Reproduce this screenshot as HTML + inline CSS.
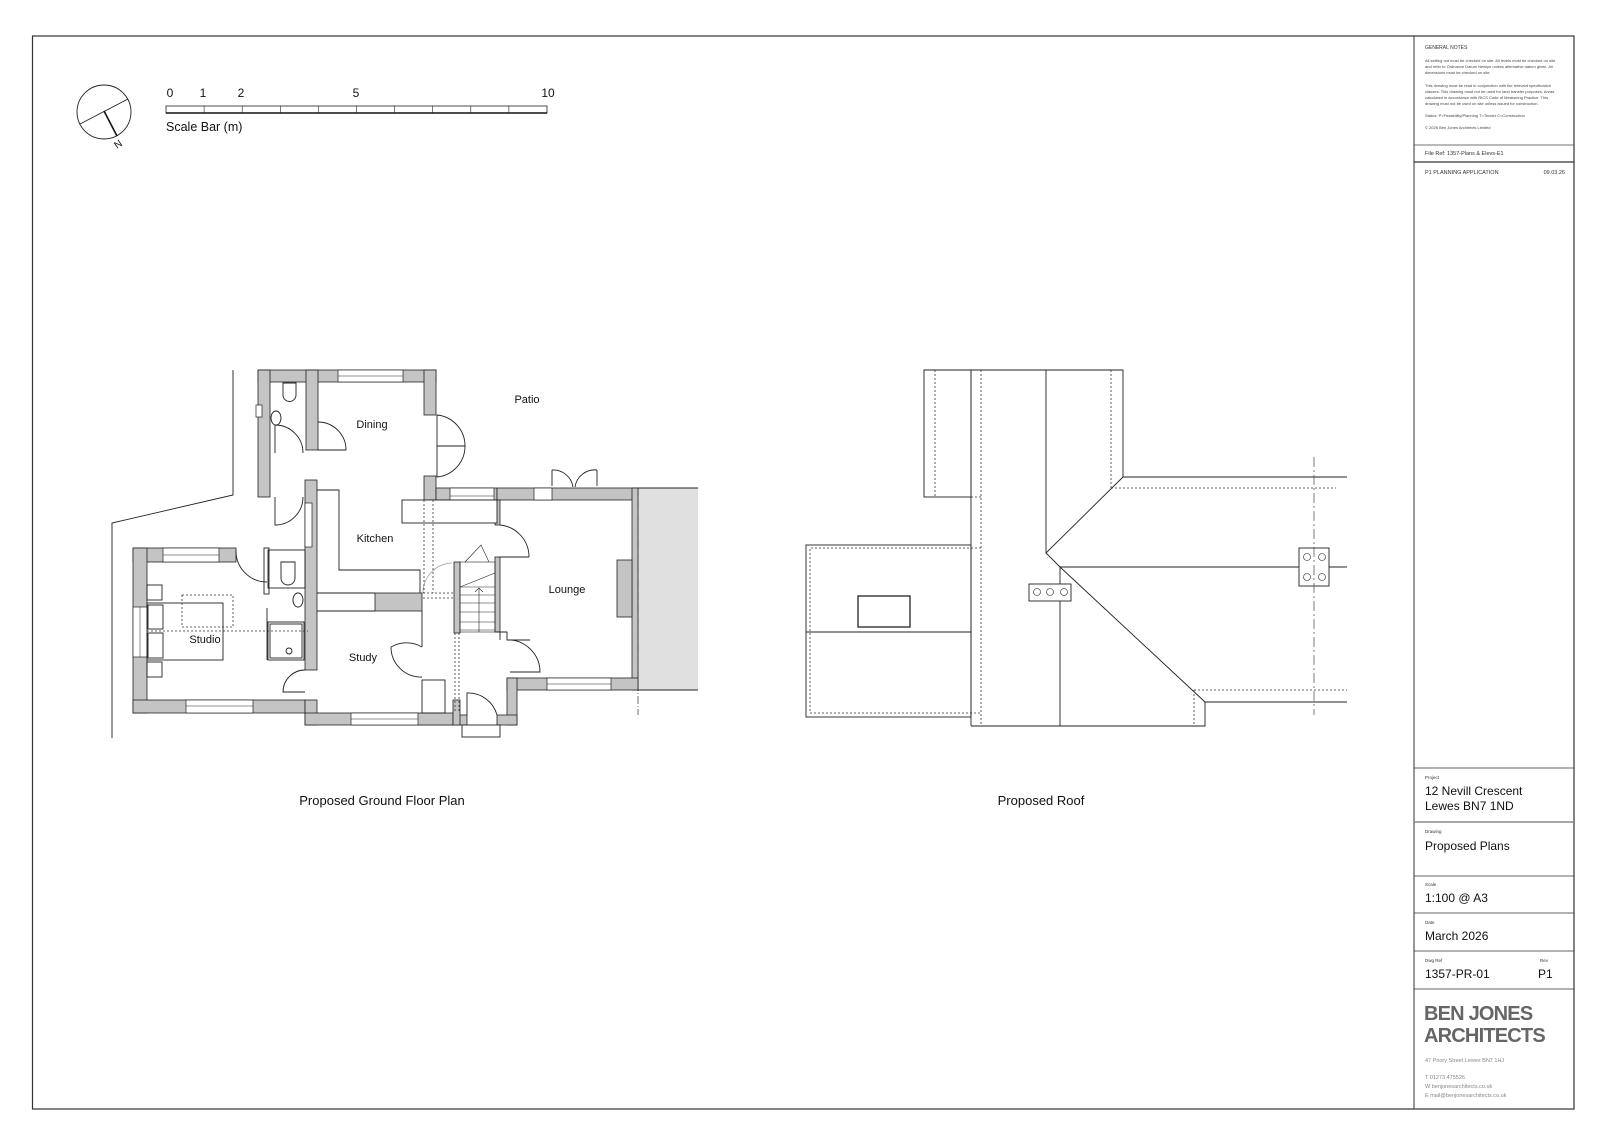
<!DOCTYPE html>
<html><head><meta charset="utf-8"><style>
html,body{margin:0;padding:0;background:#fff;}
svg{display:block;}
text{font-family:"Liberation Sans",sans-serif;fill:#111;}
.w{fill:#c4c4c4;stroke:#222;stroke-width:0.8;}
.l{fill:none;stroke:#222;stroke-width:0.9;}
.t{fill:none;stroke:#222;stroke-width:0.6;}
.d{fill:none;stroke:#333;stroke-width:0.8;stroke-dasharray:2 2;}
.win{fill:#fff;stroke:#222;stroke-width:0.7;}
.sm{font-size:4px;fill:#444;}
</style></head><body>
<svg width="1600" height="1131" viewBox="0 0 1600 1131" xmlns="http://www.w3.org/2000/svg">
<!-- frame -->
<rect x="32.5" y="36" width="1541.5" height="1073" fill="none" stroke="#333" stroke-width="1.2"/>
<line x1="1414" y1="36" x2="1414" y2="1109" stroke="#333" stroke-width="1"/>
<line x1="1414" y1="145" x2="1574" y2="145" stroke="#444" stroke-width="0.8"/>
<line x1="1414" y1="162" x2="1574" y2="162" stroke="#333" stroke-width="1.3"/>
<line x1="1414" y1="768" x2="1574" y2="768" stroke="#333" stroke-width="0.8"/>
<line x1="1414" y1="822" x2="1574" y2="822" stroke="#888" stroke-width="1.5"/>
<line x1="1414" y1="876" x2="1574" y2="876" stroke="#333" stroke-width="0.8"/>
<line x1="1414" y1="913" x2="1574" y2="913" stroke="#333" stroke-width="0.8"/>
<line x1="1414" y1="951" x2="1574" y2="951" stroke="#333" stroke-width="0.8"/>
<line x1="1414" y1="989" x2="1574" y2="989" stroke="#333" stroke-width="0.8"/>

<!-- general notes -->
<text x="1425" y="49" style="font-size:5px;fill:#333">GENERAL NOTES</text>
<text class="sm" x="1425" y="62">All setting out must be checked on site. All levels must be checked on site</text>
<text class="sm" x="1425" y="68">and refer to Ordnance Datum Newlyn unless alternative datum given. All</text>
<text class="sm" x="1425" y="74">dimensions must be checked on site.</text>
<text class="sm" x="1425" y="87">This drawing must be read in conjunction with the relevant specification</text>
<text class="sm" x="1425" y="93">clauses. This drawing must not be used for land transfer purposes. Areas</text>
<text class="sm" x="1425" y="99">calculated in accordance with RICS Code of Measuring Practice. This</text>
<text class="sm" x="1425" y="105">drawing must not be used on site unless issued for construction.</text>
<text class="sm" x="1425" y="117">Status:  P=Feasibility/Planning  T=Tender C=Construction</text>
<text class="sm" x="1425" y="129">© 2026 Ben Jones Architects Limited</text>
<text x="1425" y="155" style="font-size:5.5px;fill:#333">File Ref:    1357-Plans &amp; Elevs-E1</text>
<text x="1425" y="174" style="font-size:5.5px;fill:#333">P1       PLANNING APPLICATION</text>
<text x="1565" y="174" text-anchor="end" style="font-size:5.5px;fill:#333">09.03.26</text>

<!-- title block fields -->
<text x="1425" y="779" style="font-size:4.5px;fill:#333">Project</text>
<text x="1425" y="795" style="font-size:12px">12 Nevill Crescent</text>
<text x="1425" y="810" style="font-size:12px">Lewes  BN7 1ND</text>
<text x="1425" y="833" style="font-size:4.5px;fill:#333">Drawing</text>
<text x="1425" y="850" style="font-size:12px">Proposed Plans</text>
<text x="1425" y="886" style="font-size:4.5px;fill:#333">Scale</text>
<text x="1425" y="902" style="font-size:12px">1:100 @ A3</text>
<text x="1425" y="924" style="font-size:4.5px;fill:#333">Date</text>
<text x="1425" y="940" style="font-size:12px">March 2026</text>
<text x="1425" y="962" style="font-size:4.5px;fill:#333">Dwg Ref</text>
<text x="1425" y="978" style="font-size:12px">1357-PR-01</text>
<text x="1540" y="962" style="font-size:4.5px;fill:#333">Rev</text>
<text x="1538" y="978" style="font-size:12px">P1</text>
<text x="1424" y="1020" style="font-size:20px;font-weight:bold;fill:#666;letter-spacing:-0.8px">BEN JONES</text>
<text x="1424" y="1042" style="font-size:20px;font-weight:bold;fill:#666;letter-spacing:-0.8px">ARCHITECTS</text>
<text x="1425" y="1062" style="font-size:5.5px;fill:#888">47 Priory Street     Lewes     BN7 1HJ</text>
<text x="1425" y="1079" style="font-size:5.5px;fill:#888">T     01273 475526</text>
<text x="1425" y="1088" style="font-size:5.5px;fill:#888">W    benjonesarchitects.co.uk</text>
<text x="1425" y="1097" style="font-size:5.5px;fill:#888">E     mail@benjonesarchitects.co.uk</text>

<!-- compass -->
<circle cx="104" cy="112" r="27" fill="none" stroke="#222" stroke-width="0.9"/>
<line x1="80" y1="124" x2="128" y2="99" stroke="#222" stroke-width="0.9"/>
<line x1="104" y1="111" x2="117" y2="136" stroke="#111" stroke-width="1.6"/>
<text x="0" y="0" transform="translate(117,149) rotate(-35)" style="font-size:10px">N</text>

<!-- scale bar -->
<rect x="166" y="106" width="381" height="7" fill="#fff" stroke="#222" stroke-width="0.8"/>
<line x1="166" y1="113" x2="547" y2="113" stroke="#111" stroke-width="1.5"/>
<g stroke="#222" stroke-width="0.6">
<line x1="204.1" y1="106" x2="204.1" y2="113"/><line x1="242.2" y1="106" x2="242.2" y2="113"/>
<line x1="280.3" y1="106" x2="280.3" y2="113"/><line x1="318.4" y1="106" x2="318.4" y2="113"/>
<line x1="356.5" y1="106" x2="356.5" y2="113"/><line x1="394.6" y1="106" x2="394.6" y2="113"/>
<line x1="432.7" y1="106" x2="432.7" y2="113"/><line x1="470.8" y1="106" x2="470.8" y2="113"/>
<line x1="508.9" y1="106" x2="508.9" y2="113"/>
</g>
<g style="font-size:12px" text-anchor="middle">
<text x="170" y="97">0</text><text x="203" y="97">1</text><text x="241" y="97">2</text>
<text x="356" y="97">5</text><text x="548" y="97">10</text>
</g>
<text x="166" y="131" style="font-size:12.5px">Scale Bar (m)</text>

<!-- ============ GROUND FLOOR PLAN ============ -->
<polyline class="l" points="233,370 233,495 112,523 112,738"/>
<rect x="638" y="488" width="60" height="202" fill="#e0e0e0"/>
<line class="l" x1="637" y1="488" x2="698" y2="488"/>
<line class="l" x1="637" y1="690" x2="698" y2="690"/>
<line x1="638" y1="488" x2="638" y2="715" stroke="#333" stroke-width="0.7" stroke-dasharray="8 2 1 2"/>

<g class="w">
<rect x="258" y="370" width="178" height="12"/>
<rect x="258" y="370" width="12" height="127"/>
<rect x="424" y="370" width="12" height="45"/>
<rect x="424" y="476" width="12" height="24"/>
<rect x="306" y="370" width="12" height="80"/>
<rect x="305" y="480" width="12" height="190"/>
<rect x="436" y="488" width="61" height="12"/>
<rect x="497" y="488" width="140" height="12"/>
<rect x="632" y="488" width="6" height="202"/>
<rect x="617" y="560" width="15" height="57"/>
<rect x="507" y="678" width="131" height="12"/>
<rect x="507" y="678" width="10" height="47"/>
<rect x="495" y="500" width="5" height="25"/>
<rect x="495" y="557" width="5" height="75"/>
<rect x="418" y="715" width="49" height="10"/>
<rect x="497" y="715" width="20" height="10"/>
<rect x="133" y="548" width="103" height="14"/>
<rect x="133" y="548" width="14" height="165"/>
<rect x="133" y="700" width="172" height="13"/>
<rect x="305" y="700" width="12" height="25"/>
<rect x="305" y="713" width="148" height="12"/>
<rect x="375" y="593" width="47" height="18"/>
<rect x="454" y="562" width="6" height="71"/>
<rect x="453" y="700" width="7" height="25"/>
</g>
<g class="win">
<rect x="338" y="370" width="65" height="12"/>
<rect x="450" y="488" width="44" height="12"/>
<rect x="534" y="488" width="18" height="12"/>
<rect x="547" y="678" width="64" height="12"/>
<rect x="163" y="548" width="56" height="14"/>
<rect x="133" y="607" width="14" height="50"/>
<rect x="186" y="700" width="67" height="13"/>
<rect x="351" y="713" width="67" height="12"/>
<rect x="305" y="503" width="7" height="44"/>
<rect x="256" y="405" width="6" height="12"/>
</g>
<g stroke="#222" stroke-width="0.5">
<line x1="338" y1="376" x2="403" y2="376"/><line x1="450" y1="496" x2="494" y2="496"/>
<line x1="547" y1="684" x2="611" y2="684"/><line x1="163" y1="555" x2="219" y2="555"/>
<line x1="140" y1="607" x2="140" y2="657"/><line x1="186" y1="706" x2="253" y2="706"/>
<line x1="351" y1="719" x2="418" y2="719"/>
</g>
<g class="l">
<rect x="402" y="500" width="95" height="23" fill="#fff"/>
<polyline points="317,490 339,490 339,570 420,570 420,593"/>
<line x1="317" y1="593" x2="375" y2="593"/><line x1="317" y1="611" x2="375" y2="611"/>
<polyline points="422,611 422,647"/>
<rect x="422" y="680" width="23" height="33"/>
<rect x="462" y="725" width="38" height="12" fill="#fff"/>
<line x1="500" y1="632" x2="500" y2="640"/><polyline points="495,632 507,632 507,640 530,640"/>
<line x1="500" y1="557" x2="529" y2="557"/>
<line x1="437" y1="415" x2="437" y2="477"/>
<line x1="552" y1="486" x2="552" y2="470"/><line x1="597" y1="486" x2="597" y2="470"/>
</g>
<g class="t">
<rect x="460" y="562" width="35" height="70"/>
<line x1="460" y1="587" x2="495" y2="587"/><line x1="460" y1="595" x2="495" y2="595"/>
<line x1="460" y1="603" x2="495" y2="603"/><line x1="460" y1="612" x2="495" y2="612"/>
<line x1="460" y1="622" x2="495" y2="622"/><line x1="460" y1="630" x2="495" y2="630"/>
<line x1="460" y1="587" x2="495" y2="573"/>
<line x1="479" y1="588" x2="479" y2="632"/><polyline points="475,592 479,588 483,592"/>
<polyline points="465,562 481,545 489,562"/>
</g>
<g class="l">
<path d="M318,450 L346,450 A28,28 0 0 0 318,422"/>
<path d="M303,453 A28,28 0 0 0 275,425 L275,453"/>
<path d="M275,497 L275,525 A28,28 0 0 0 303,497"/>
<path d="M437,415 A31,31 0 0 1 465,446 L437,446"/>
<path d="M437,477 A31,31 0 0 0 465,446"/>
<path d="M552,470 A20,20 0 0 1 573,487 M597,470 A20,20 0 0 0 575,487"/>
<path d="M500,525 A32,32 0 0 1 529,557"/>
<path d="M507,640 A32,32 0 0 1 540,672 L510,672"/>
<path d="M467,715 L467,693 A30,30 0 0 1 497,715"/>
<path d="M236,550 A31,31 0 0 0 267,582"/>
<path d="M305,670 A22,22 0 0 0 283,692 L305,692"/>
<path d="M422,647 A31,31 0 0 0 391,647 M422,677 A30,30 0 0 1 391,647"/>
</g>
<path d="M423,593 A30,30 0 0 1 452,563" fill="none" stroke="#999" stroke-width="0.7"/>
<g class="d">
<line x1="424" y1="500" x2="424" y2="593"/><line x1="433" y1="500" x2="433" y2="593"/>
<line x1="423" y1="593" x2="455" y2="593"/><line x1="423" y1="598" x2="455" y2="598"/>
<line x1="455" y1="633" x2="455" y2="713"/><line x1="459" y1="633" x2="459" y2="713"/>
<rect x="182" y="595" width="51" height="32"/>
<line x1="147" y1="631" x2="308" y2="631"/>
</g>
<g class="l">
<rect x="147" y="603" width="76" height="57"/>
<rect x="148" y="605" width="15" height="24"/><rect x="148" y="633" width="15" height="25"/>
<rect x="147" y="585" width="15" height="15"/><rect x="147" y="662" width="15" height="15"/>
<rect x="268" y="550" width="37" height="38" fill="none"/>
<path d="M281,562 h14 v16 a7,7 0 0 1 -14,0 z"/>
<path d="M283,383 h13 v12 a6.5,6.5 0 0 1 -13,0 z"/>
<rect x="268" y="622" width="36" height="38"/>
<rect x="270" y="624" width="32" height="34"/>
<circle cx="289" cy="651" r="3"/>
<ellipse cx="298" cy="600" rx="5" ry="7"/>
<ellipse cx="276" cy="418" rx="5" ry="7"/>
<line x1="267" y1="608" x2="267" y2="660"/>
<rect x="264" y="548" width="5" height="46"/>
</g>
<g style="font-size:11px" text-anchor="middle">
<text x="372" y="428">Dining</text>
<text x="375" y="542">Kitchen</text>
<text x="205" y="643">Studio</text>
<text x="363" y="661">Study</text>
<text x="527" y="403">Patio</text>
<text x="567" y="593">Lounge</text>
</g>
<text x="382" y="805" text-anchor="middle" style="font-size:13px">Proposed Ground Floor Plan</text>
<text x="1041" y="805" text-anchor="middle" style="font-size:13px">Proposed Roof</text>

<!-- ============ ROOF ============ -->
<g class="l">
<rect x="924" y="370" width="47" height="127"/>
<polyline points="924,370 1123,370 1123,477 1347,477"/>
<line x1="971" y1="370" x2="971" y2="726"/>
<line x1="1046" y1="370" x2="1046" y2="553"/>
<polyline points="1123,477 1046,553 1060,567 1347,567"/>
<polyline points="1060,567 1205,702 1347,702"/>
<polyline points="1205,702 1205,726 971,726"/>
<line x1="1060" y1="567" x2="1060" y2="726"/>
<rect x="806" y="545" width="165" height="172"/>
<line x1="806" y1="632" x2="971" y2="632"/>
<rect x="858" y="596" width="52" height="31" stroke-width="1.3"/>
<rect x="1029" y="584" width="42" height="17" fill="#fff"/>
<rect x="1299" y="548" width="30" height="38" fill="#fff"/>
</g>
<g class="t">
<circle cx="1037" cy="592" r="3.5"/><circle cx="1050" cy="592" r="3.5"/><circle cx="1064" cy="592" r="3.5"/>
<circle cx="1307" cy="557" r="3.5"/><circle cx="1322" cy="557" r="3.5"/>
<circle cx="1307" cy="577" r="3.5"/><circle cx="1322" cy="577" r="3.5"/>
</g>
<g class="d">
<line x1="935" y1="370" x2="935" y2="497"/>
<line x1="981" y1="370" x2="981" y2="726"/>
<line x1="1111" y1="370" x2="1111" y2="488"/>
<line x1="1111" y1="488" x2="1336" y2="488"/>
<line x1="1194" y1="690" x2="1347" y2="690"/>
<line x1="1194" y1="690" x2="1194" y2="726"/>
<polyline points="981,548 810,548 810,713 981,713"/>
<line x1="971" y1="497" x2="981" y2="497"/>
</g>
<line x1="1314" y1="457" x2="1314" y2="715" stroke="#444" stroke-width="0.7" stroke-dasharray="10 3 2 3"/>
</svg>
</body></html>
